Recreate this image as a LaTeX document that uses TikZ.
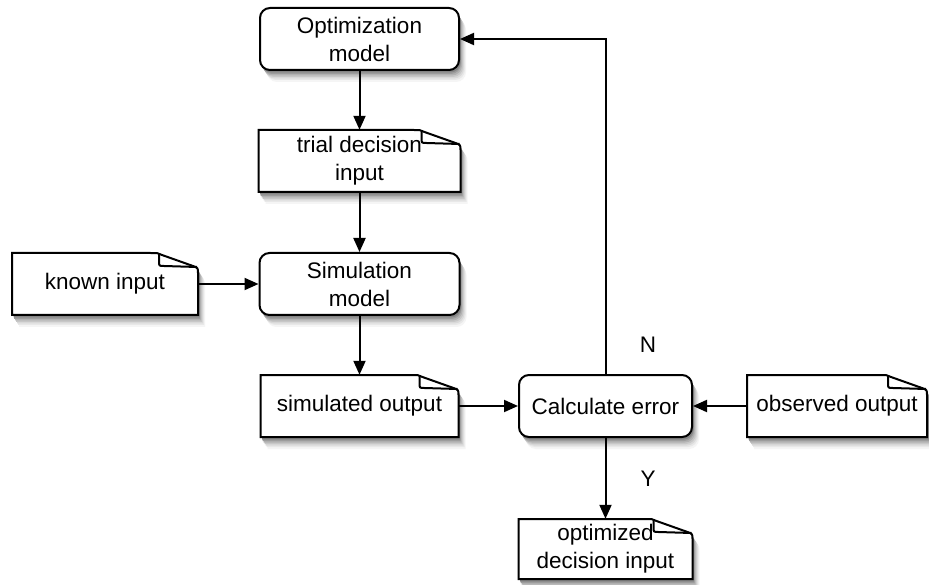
\documentclass[tikz,border=0pt]{standalone}
\usepackage{fontspec}
\setmainfont{Liberation Sans}
\usetikzlibrary{arrows.meta}
\tikzset{
  procbox/.style={draw,line width=2pt,fill=white,rounded corners=10pt,
     inner sep=0pt,align=center,font=\fontsize{22.5}{28}\selectfont},
  docbox/.style={inner sep=0pt,align=center,font=\fontsize{22.5}{28}\selectfont},
  docline/.style={draw,line width=2pt,fill=white},
  foldline/.style={draw,line width=2pt},
  arr/.style={line width=2pt,-{Triangle[length=14pt,width=12pt]}},
  lbl/.style={font=\fontsize{22.5}{28}\selectfont}
}
\definecolor{sh1}{gray}{0.96}
\definecolor{sh2}{gray}{0.91}
\definecolor{sh3}{gray}{0.85}
\definecolor{sh4}{gray}{0.78}
\definecolor{sh5}{gray}{0.70}
\definecolor{sh6}{gray}{0.61}
\definecolor{sh7}{gray}{0.52}
% rounded-box shadow layer: left top right bottom dx dy colour
\newcommand\shl[7]{\fill[color=#7,rounded corners=10pt] ({#1+#5},{#2+#6}) rectangle ({#3+#5},{#4+#6});}
% document outline path shifted by dx dy: left top right bottom dx dy
\newcommand\docpath[6]{({#1+#5},{#2+#6}) -- ({#3-48+#5},{#2+#6}) .. controls ({#3-40+#5},{#2+#6}) .. ({#3-36+#5},{#2+2+#6})
    -- ({#3-5+#5},{#2+13+#6}) .. controls ({#3+#5},{#2+15+#6}) .. ({#3+#5},{#2+20+#6})
    -- ({#3+#5},{#4+#6}) -- ({#1+#5},{#4+#6}) -- cycle}
\newcommand\dsl[7]{\fill[color=#7] \docpath{#1}{#2}{#3}{#4}{#5}{#6};}
\newcommand\layers[2]{%
  #1#2{7}{12}{sh1}
  #1#2{6}{10}{sh2}
  #1#2{5}{8.5}{sh3}
  #1#2{4}{7}{sh4}
  #1#2{3}{5.5}{sh5}
  #1#2{2}{4}{sh6}
  #1#2{1.5}{2.5}{sh7}
}
\newcommand\docshape[4]{% left top right bottom
  \path[docline] \docpath{#1}{#2}{#3}{#4}{0}{0};
  \path[foldline] ({#3-39},{#2+1}) -- ({#3-39},{#2+8}) .. controls ({#3-39},{#2+13}) .. ({#3-34},{#2+13})
    -- ({#3-1},{#2+14});
}
\begin{document}
\begin{tikzpicture}[x=1pt,y=-1pt]
\fill[white] (0,0) rectangle (929,585);
\useasboundingbox (0,0) rectangle (929,585);
% shadows
\layers\shl{{260}{8}{459}{70}}
\layers\shl{{259.5}{253}{459.5}{315}}
\layers\shl{{519}{375}{692}{437}}
\layers\dsl{{258.5}{130}{460.5}{192}}
\layers\dsl{{12}{253}{198}{315}}
\layers\dsl{{260.5}{375}{458.5}{437}}
\layers\dsl{{747}{375}{927}{437}}
\layers\dsl{{518.5}{519}{692.5}{579}}
% document outlines
\docshape{258.5}{130}{460.5}{192}
\docshape{12}{253}{198}{315}
\docshape{260.5}{375}{458.5}{437}
\docshape{747}{375}{927}{437}
\docshape{518.5}{519}{692.5}{579}
% nodes
\node[procbox,minimum width=199pt,minimum height=62pt] (opt) at (359.5,39) {Optimization\\model};
\node[docbox,minimum width=202pt,minimum height=62pt] (trial) at (359.5,161) {trial decision\\input};
\node[docbox,minimum width=186pt,minimum height=62pt] (known) at (105,284) {known input};
\node[procbox,minimum width=200pt,minimum height=62pt] (sim) at (359.5,284) {Simulation\\model};
\node[docbox,minimum width=198pt,minimum height=62pt] (simout) at (359.5,406) {simulated output};
\node[procbox,minimum width=173pt,minimum height=62pt] (calc) at (605.5,406) {Calculate error};
\node[docbox,minimum width=180pt,minimum height=62pt] (obs) at (837,406) {observed output};
\node[docbox,minimum width=174pt,minimum height=60pt] (optd) at (605.5,549) {optimized\\decision input};
\node[lbl] (nl) at (648,345) {N};
\node[lbl,fill=white,rounded corners=6pt,minimum width=34pt,minimum height=44pt] (yl) at (648,479) {Y};
\draw[arr] (opt) -- (trial);
\draw[arr] (trial) -- (sim);
\draw[arr] (known) -- (sim);
\draw[arr] (sim) -- (simout);
\draw[arr] (simout) -- (calc);
\draw[arr] (obs) -- (calc);
\draw[arr] (calc) -- (optd);
\draw[arr] (calc.north) |- (opt.east);
\end{tikzpicture}
\end{document}
